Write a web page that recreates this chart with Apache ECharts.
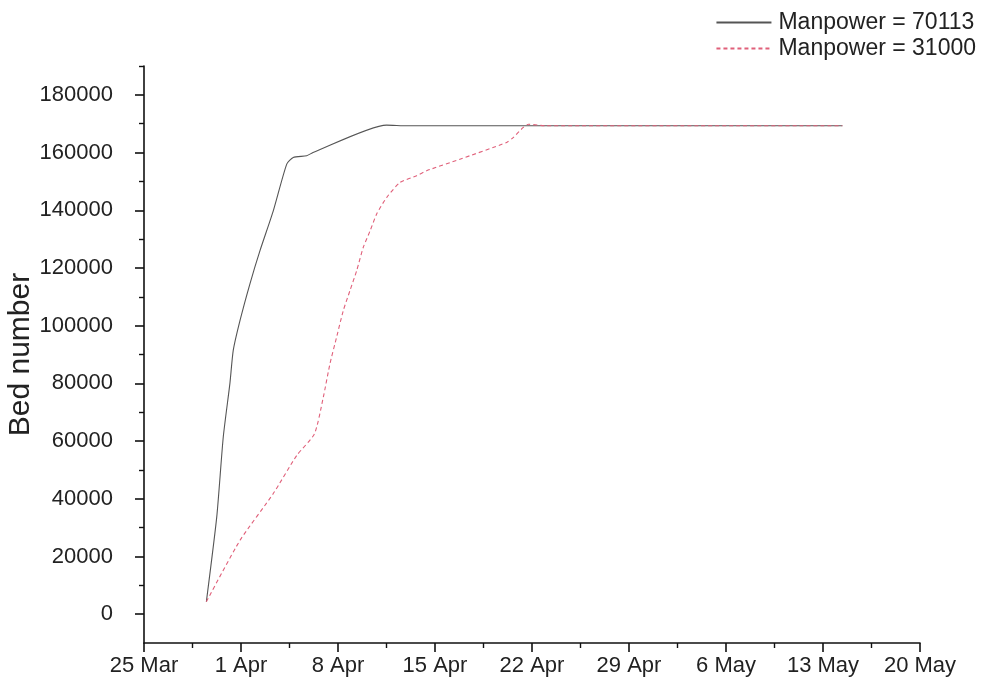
<!DOCTYPE html>
<html>
<head>
<meta charset="utf-8">
<script src="https://cdn.jsdelivr.net/npm/echarts@6/dist/echarts.min.js"></script>
<style>
  html, body { margin: 0; padding: 0; background: #fff; }
  #chart { width: 990px; height: 688px; }
</style>
</head>
<body>
<div id="chart"></div>
<script>
// Days counted from 25 Mar 2020 (day 0)
const startDate = Date.UTC(2020, 2, 25);

// Bed numbers with a workforce of 70113
const daysHigh = [4.5, 5.25, 5.72, 6.2, 6.44, 6.93, 7.65, 8.37, 9.33, 10.3, 10.77, 11.74, 12.2, 17.5, 19, 30, 40, 50.4];
const bedsHigh = [4300, 33700, 61400, 80000, 91400, 101800, 114600, 126000, 139800, 156000, 158300, 158900, 160000, 169500, 169300, 169300, 169300, 169300];

// Bed numbers with a workforce of 31000
const daysLow = [4.5, 6.93, 9.33, 11.02, 12.3, 12.94, 13.42, 13.9, 14.38, 14.86, 15.35, 15.82, 16.31, 16.79, 17.51, 18.47, 19.68, 20.4, 22.8, 26.17, 26.64, 27.37, 27.75, 29, 40, 50.4];
const bedsLow = [4300, 25600, 41800, 55000, 62500, 75200, 86800, 96000, 105200, 112100, 119100, 127100, 132800, 138700, 144400, 149600, 152000, 153700, 157700, 163500, 165200, 168700, 169800, 169300, 169300, 169300];

const seriesNames = ['Manpower = 70113', 'Manpower = 31000'];

// Y tick positions: labelled majors and unlabelled minors
const yMajor = [0, 20000, 40000, 60000, 80000, 100000, 120000, 140000, 160000, 180000];
const yMinor = [10000, 30000, 50000, 70000, 90000, 110000, 130000, 150000, 170000, 190000];

const months = ['Jan', 'Feb', 'Mar', 'Apr', 'May', 'Jun', 'Jul', 'Aug', 'Sep', 'Oct', 'Nov', 'Dec'];
function dayLabel(v) {
  const d = new Date(startDate + v * 86400000);
  return d.getUTCDate() + ' ' + months[d.getUTCMonth()];
}

const zip = (xs, ys) => xs.map((x, i) => [x, ys[i]]);
const font = "'Liberation Sans', Arial, sans-serif";
const axisColor = '#111';

const chart = echarts.init(document.getElementById('chart'), null, { renderer: 'canvas' });
chart.setOption({
  animation: false,
  backgroundColor: '#fff',
  textStyle: { fontFamily: font },
  grid: { left: 144, right: 70, top: 66, bottom: 45, containLabel: false, outerBoundsMode: 'none' },
  legend: {
    orient: 'vertical',
    right: 9,
    top: 6,
    itemWidth: 55,
    itemHeight: 14,
    itemGap: 3,
    itemStyle: { opacity: 0 },
    textStyle: { fontSize: 23, color: '#222', fontFamily: font, padding: [0, 0, 0, 2] },
    data: seriesNames
  },
  xAxis: {
    type: 'value',
    min: 0,
    max: 56,
    interval: 7,
    axisLine: { show: true, onZero: false, lineStyle: { color: axisColor, width: 1.6 } },
    axisTick: { show: true, length: 9, lineStyle: { color: axisColor, width: 1.6 } },
    minorTick: { show: true, splitNumber: 2, length: 5, lineStyle: { color: axisColor, width: 1.4 } },
    splitLine: { show: false },
    axisLabel: { fontSize: 22, color: '#222', margin: 12, formatter: dayLabel, fontFamily: font }
  },
  yAxis: [
    {
      type: 'value',
      min: -10000,
      max: 190000,
      interval: 10000,
      name: 'Bed number',
      nameLocation: 'middle',
      nameGap: 108,
      nameMoveOverlap: false,
      nameTextStyle: { fontSize: 30, color: '#222', fontFamily: font },
      axisLine: { show: true, onZero: false, lineStyle: { color: axisColor, width: 1.6 } },
      axisTick: { show: true, length: 9, customValues: yMajor, lineStyle: { color: axisColor, width: 1.6 } },
      splitLine: { show: false },
      axisLabel: { fontSize: 22, color: '#222', margin: 31, customValues: yMajor, formatter: v => String(v), fontFamily: font }
    },
    {
      type: 'value',
      min: -10000,
      max: 190000,
      interval: 10000,
      position: 'left',
      axisLine: { show: false },
      axisTick: { show: true, length: 5, customValues: yMinor, lineStyle: { color: axisColor, width: 1.4 } },
      splitLine: { show: false },
      axisLabel: { show: false }
    }
  ],
  series: [
    {
      name: seriesNames[0],
      type: 'line',
      data: zip(daysHigh, bedsHigh),
      symbol: 'none',
      smooth: 0.2,
      lineStyle: { color: '#555', width: 1.1 },
      itemStyle: { color: '#555' },
      z: 2
    },
    {
      name: seriesNames[1],
      type: 'line',
      data: zip(daysLow, bedsLow),
      symbol: 'none',
      smooth: 0.2,
      lineStyle: { color: '#e0607a', width: 1.1, type: [4, 3] },
      itemStyle: { color: '#e0607a' },
      z: 3
    }
  ]
});
</script>
</body>
</html>
